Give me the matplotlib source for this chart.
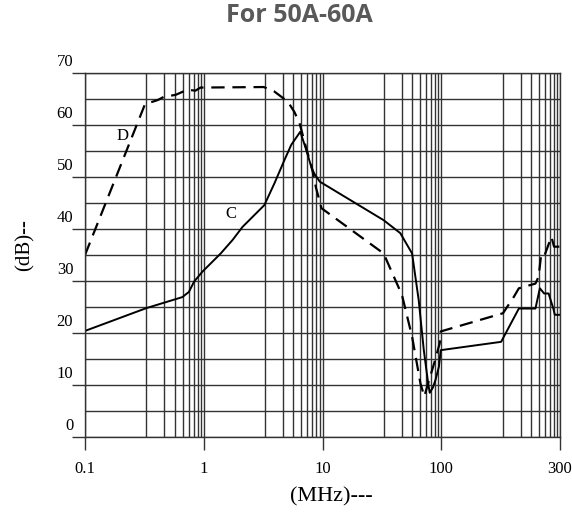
import numpy as np
import matplotlib
matplotlib.use("Agg")
import matplotlib.pyplot as plt
import matplotlib.transforms as mtrans

# curve D (dashed)
d_freq = [0.1, 0.32, 0.41, 0.46, 0.58, 0.73, 0.85, 0.94, 3.2, 3.9, 5.1, 5.8, 6.4,
          7.3, 8.1, 8.8, 9.8, 32.7, 46.7, 56.8, 66.8, 72, 78, 88, 97, 99,
          177, 196, 205, 239, 246, 252, 259, 277, 284, 300]
d_db = [35, 64, 64.8, 65.4, 65.8, 66.8, 66.6, 67.2, 67.3, 66.5, 64.5, 62.5, 60.4,
        55.5, 52, 48, 44, 35.3, 27.3, 19.3, 10.3, 7.8, 10.5, 14.5, 18, 20.3,
        23.8, 27, 28.6, 29.5, 30.8, 35, 34.7, 38.5, 36.6, 36.6]

# curve C (solid)
c_freq = [0.1, 0.33, 0.66, 0.75, 0.83, 0.975, 1.39, 1.75, 2.12, 3.24, 3.94, 4.79,
          5.46, 6.5, 7.3, 8.1, 8.6, 9.5, 32.7, 45.2, 56.8, 64.6, 71.3, 77.6, 80,
          85, 89.5, 95.5, 99, 174, 205, 239, 249, 259, 270, 282, 286, 300]
c_db = [20.4, 24.8, 26.9, 27.9, 29.9, 31.8, 35.3, 37.9, 40.4, 44.6, 48.8, 53.3,
        56.2, 58.7, 55.2, 51.7, 50.5, 49.1, 41.7, 39.2, 35.3, 26.3, 16.7, 10.3, 8.5,
        9.5, 11, 13.5, 16.7, 18.3, 24.7, 24.7, 28.6, 27.6, 27.6, 24.7, 23.5, 23.5]

x_ticks = [0.1, 1, 10, 100, 300]
x_labels = ["0.1", "1", "10", "100", "300"]
y_ticks = [0, 10, 20, 30, 40, 50, 60, 70]

# the chart paper: last section 100-300 is drawn as wide as a full decade
def fwd(x):
    x = np.clip(np.asarray(x, dtype=float), 1e-6, None)
    return np.where(x <= 100, np.log10(x), 2 + np.log10(x / 100) / np.log10(3))

def inv(u):
    u = np.asarray(u, dtype=float)
    return np.where(u <= 2, 10.0 ** u, 100 * 3.0 ** (u - 2))

# grid line positions inside each decade (as on the original paper)
fracs = np.array([0.517, 0.669, 0.754, 0.822, 0.873, 0.915, 0.949, 0.975])
minor_x = list(10.0 ** (-1 + fracs)) + list(10.0 ** (0 + fracs)) + \
          list(10.0 ** (1 + fracs)) + list(100 * 3.0 ** fracs)

serif = "Liberation Serif"
gcol = "#333333"

fig = plt.figure(figsize=(5.72, 5.17), dpi=100)
ax = fig.add_axes([85 / 572, 1 - 437 / 517, 475 / 572, 364 / 517])
ax.set_xscale("function", functions=(fwd, inv))
ax.set_xlim(0.1, 300)
ax.set_ylim(0, 70)

ax.set_xticks(x_ticks)
ax.set_xticklabels(x_labels, fontfamily=serif, fontsize=12)
ax.set_xticks(minor_x, minor=True)
ax.set_yticks(y_ticks)
ax.set_yticklabels([str(v) for v in y_ticks], fontfamily=serif, fontsize=12)
ax.set_yticks(np.arange(5, 70, 10), minor=True)

ax.tick_params(axis="x", which="major", length=9.5, width=1, color=gcol, pad=8)
ax.tick_params(axis="y", which="major", length=9.5, width=1, color=gcol, pad=-1)
ax.tick_params(which="minor", length=0)
for lab in ax.get_yticklabels():
    lab.set_verticalalignment("bottom")
    lab.set_transform(lab.get_transform() +
                      mtrans.ScaledTranslation(0, 2 / 72, fig.dpi_scale_trans))

ax.grid(True, which="both", color=gcol, linewidth=1)
ax.set_axisbelow(True)
for s in ax.spines.values():
    s.set_color(gcol)
    s.set_linewidth(1)

ax.plot(d_freq, d_db, color="black", linewidth=1.6, dashes=(6, 3.5))
ax.plot(c_freq, c_db, color="black", linewidth=1.4)

ax.text(0.205, 57.8, "D", fontfamily=serif, fontsize=12, ha="center", va="center")
ax.text(1.69, 42.9, "C", fontfamily=serif, fontsize=12, ha="center", va="center")

fig.text(299 / 572, 1 - 16 / 517, "For 50A-60A", fontfamily="Open Sans", fontweight="bold",
         fontsize=18, color="#595959", ha="center", va="center")
fig.text(25 / 572, 1 - 245 / 517, "(dB)--", fontfamily=serif, fontsize=15,
         rotation=90, ha="center", va="center")
fig.text(331 / 572, 1 - 497 / 517, "(MHz)---", fontfamily=serif, fontsize=16,
         ha="center", va="center")

fig.savefig("out.png", dpi=100)
